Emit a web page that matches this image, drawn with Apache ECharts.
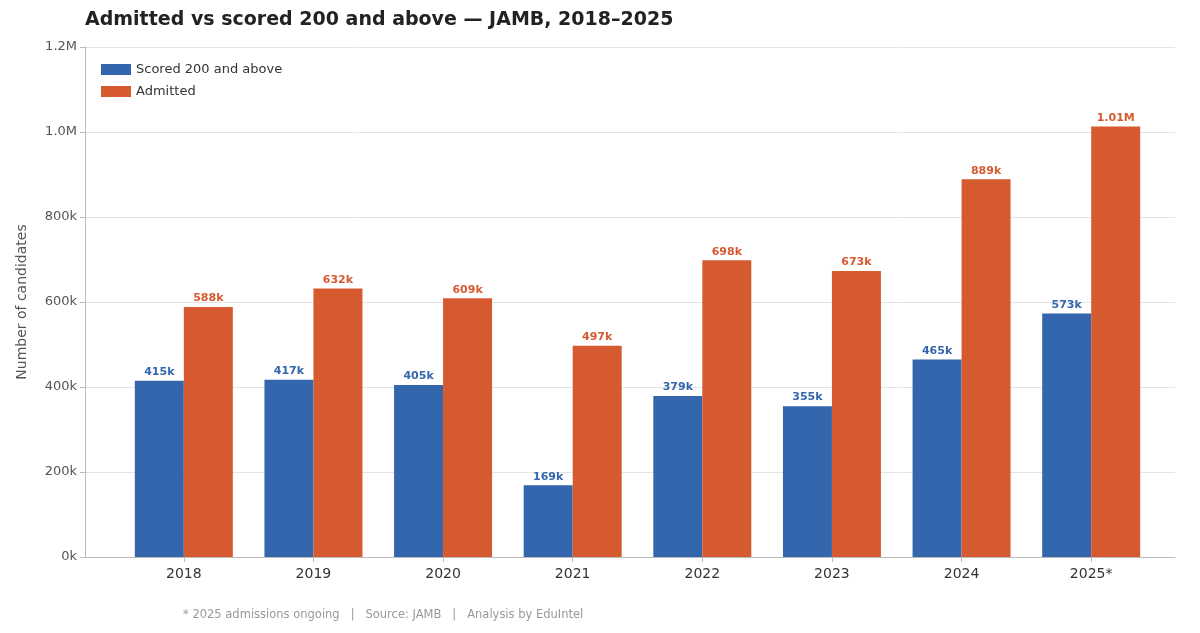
<!DOCTYPE html>
<html>
<head>
<meta charset="utf-8">
<script src="https://cdn.jsdelivr.net/npm/echarts@6/dist/echarts.min.js"></script>
<style>
  html, body { margin: 0; padding: 0; background: #fff; }
  #chart { width: 1200px; height: 633px; }
</style>
</head>
<body>
<div id="chart"></div>
<script>
const years = ["2018", "2019", "2020", "2021", "2022", "2023", "2024", "2025*"];
const scored200 = [415000, 417000, 405000, 169000, 379000, 355000, 465000, 573000];
const admitted = [588000, 632000, 609000, 497000, 698000, 673000, 889000, 1013000];

const fmt = (v) => (v >= 1000000 ? (v / 1000000).toFixed(2).replace(/0$/, "") + "M" : Math.round(v / 1000) + "k");
const axisFmt = (v) => (v >= 1000000 ? (v / 1000000).toFixed(1) + "M" : v / 1000 + "k");

let myChart = echarts.init(document.querySelector("#chart"));
let option = {
  textStyle: { fontFamily: "DejaVu Sans" },
  title: {
    text: "Admitted vs scored 200 and above — JAMB, 2018–2025",
    left: 80,
    top: 6,
    textStyle: { fontSize: 19, fontWeight: "bold", color: "#222" },
  },
  legend: {
    left: 96,
    top: 58,
    orient: "vertical",
    itemWidth: 30,
    itemHeight: 11,
    itemGap: 9,
    icon: "rect",
    textStyle: { color: "#333", fontSize: 13 },
  },
  grid: [
    { left: 119, right: 44, top: 47, bottom: 76 },
    { left: 85, right: 25, top: 47, bottom: 76 },
  ],
  xAxis: [
    {
      type: "category",
      data: years,
      gridIndex: 0,
      axisLine: { show: false },
      axisTick: { show: true, alignWithLabel: true, lineStyle: { color: "#bbb" } },
      axisLabel: { color: "#333", fontSize: 14, margin: 10 },
    },
    {
      type: "value",
      gridIndex: 1,
      show: true,
      axisLine: { show: true, lineStyle: { color: "#bbb" } },
      axisTick: { show: false },
      axisLabel: { show: false },
      splitLine: { show: false },
    },
  ],
  yAxis: [
    {
      type: "value",
      gridIndex: 0,
      min: 0,
      max: 1200000,
      interval: 200000,
      show: false,
      splitLine: { show: false },
    },
    {
      type: "value",
      gridIndex: 1,
      min: 0,
      max: 1200000,
      interval: 200000,
      name: "Number of candidates",
      nameLocation: "middle",
      nameGap: 56,
      nameTextStyle: { color: "#555", fontSize: 14 },
      axisLine: { show: true, lineStyle: { color: "#bbb" } },
      axisTick: { show: true, lineStyle: { color: "#bbb" } },
      axisLabel: { color: "#555", fontSize: 13, formatter: axisFmt },
      splitLine: { lineStyle: { color: "#e4e4e4" } },
    },
  ],
  series: [
    {
      name: "Scored 200 and above",
      type: "bar",
      data: scored200,
      barWidth: 49,
      barGap: "0%",
      z: 5,
      itemStyle: { color: "#3366ad" },
      label: { show: true, position: "top", distance: 3, color: "#3366ad", fontWeight: "bold", fontSize: 11, formatter: (p) => fmt(p.value) },
    },
    {
      name: "Admitted",
      type: "bar",
      data: admitted,
      barWidth: 49,
      z: 5,
      itemStyle: { color: "#d65a30" },
      label: { show: true, position: "top", distance: 3, color: "#d65a30", fontWeight: "bold", fontSize: 11, formatter: (p) => fmt(p.value) },
    },
  ],
  graphic: [
    {
      type: "text",
      left: 183,
      top: 609,
      style: { text: "* 2025 admissions ongoing   |   Source: JAMB   |   Analysis by EduIntel", fill: "#999", fontSize: 11.5, fontFamily: "DejaVu Sans" },
    },
  ],
};
myChart.setOption(option);
window.addEventListener("resize", () => {
  myChart.resize();
});
</script>
</body>
</html>
